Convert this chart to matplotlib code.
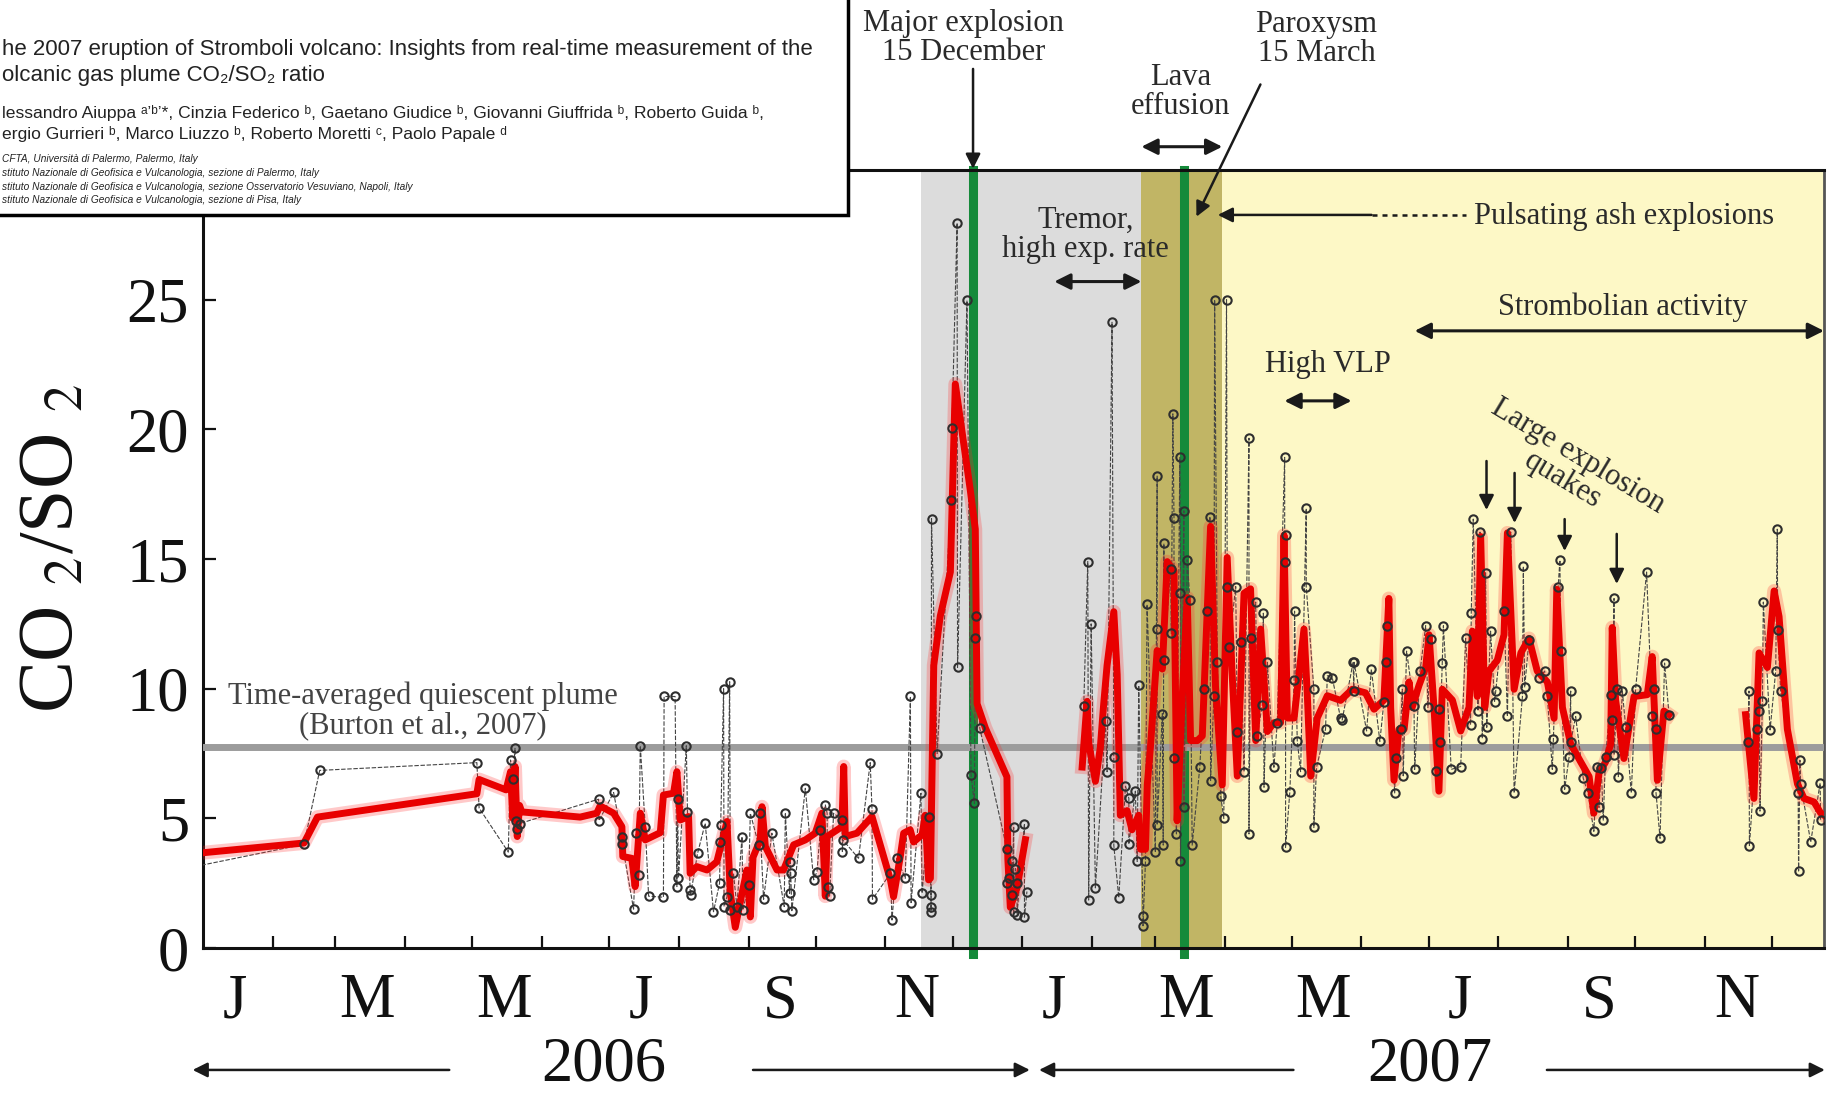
## CO2/SO2 ratio of the Stromboli plume, 2006-2007
import numpy as np
import pandas as pd
import matplotlib
matplotlib.use('Agg')
import matplotlib.pyplot as plt
from matplotlib.patches import Rectangle
from matplotlib.ticker import NullFormatter

plt.rcParams['font.family'] = ['Liberation Serif', 'DejaVu Serif']
plt.rcParams['mathtext.fontset'] = 'stix'

START = pd.Timestamp('2006-01-01')

## Single measurements (days after 1 Jan 2006); nan breaks the line
obs_day = [
    -6, 45, 52, 122, 123, 136, 137, 138, 139, 139.5, 140, 141,
    176.2, 176.4, 182.9, 186.6, 186.8, 191.8, 193, 194, 194.8, 197, 198.5,
    205.1, 205.4, 210.3, 211.1, 211.4, 211.8, 215.3, 215.8, 217, 217.2,
    220.3, 223.7, 227.4, 230.1, 230.4, 230.6, 231.9, 232.1, 233.4, 234.6,
    234.9, 236.3, 237.8, 240.1, 240.5, 243, 243.8, 247.5, 247.9, 249.7,
    253.4, 258.9, 259.4, 261.3, 261.6, 261.8, 262.3, 268.3, 272, 273.5,
    275, 277.2, 278, 278.2, 279.1, 280.9, 284.6, 284.8, 285, 292, 297.2,
    298, 298.2, 306.2, 306.9, 309.1, 312.8, 315.1, 315.4, 319.8, 320.3,
    323.2, 324.3, 324.3, 324.3, 324.5, 327, 333.2, 333.6, 335.9, 336.1,
    340.3, 342.1, 343.6, 344, 344.5, 346, 358.1, 358.1, 358.9, 360.4,
    360.4, 361.1, 361.1, 361.9, 362.6, 362.6, 365.9, 365.9, 367,
    380,
    392.3, 394.1, 394.5, 395.6, 397.5, 402, 402.7, 404.9, 405.7, 405.7,
    407.9, 410.9, 412.4, 412.4, 415.3, 416.1, 416.8, 418.7, 418.7, 419.8,
    420.5, 424.2, 425, 425, 425, 427.3, 427.7, 428, 428, 431, 431.3, 432,
    432.5, 432.5, 433.6, 435.1, 435.4, 435.4, 436.9, 436.9, 438.4, 439.6,
    440.6, 444, 445.8, 447.3, 448.5, 448.8, 450.3, 450.6, 451.8, 453.3,
    454.7, 455.9, 456.2, 457, 460, 460.7, 462.2, 463.7, 465.9, 465.9,
    466.6, 468.9, 469.6, 471.8, 472.3, 472.6, 474.1, 477, 478.5, 481.8,
    481.8, 482.2, 482.2, 484.1, 486, 486.2, 487.4, 488.9, 491.4, 491.4,
    494.8, 494.8, 496, 500, 500.8, 503, 506.7, 507.4, 512.3, 512.6, 512.7,
    518.3, 520.4, 524.2, 526, 526.8, 527.2, 530.8, 531.2, 533.4, 534.2,
    534.6, 536.1, 539.4, 539.7, 542.1, 544.6, 545.6, 547.1, 549, 550.5,
    550.9, 552, 552.5, 556, 560.2, 562.4, 564.6, 564.9, 565.8, 567.9,
    568.8, 569.8, 571.3, 571.8, 573.5, 575.3, 575.8, 579.5, 581, 582.5,
    584, 587.7, 588.1, 588.7, 590.6, 595.1, 597.6, 598.8, 601, 601.5,
    603.6, 604.4, 604.7, 606.5, 608.5, 609.2, 609.2, 611.4, 614.8, 616.9,
    619.5, 621, 621.8, 622.8, 623.7, 624.7, 627.3, 627.7, 628.5, 628.5,
    630, 630.4, 632.2, 633.7, 636.2, 638.1, 643, 645.5, 646.3, 647, 647.2,
    649, 651, 653,
    670,
    688.2, 688.6, 688.8, 692.3, 693.1, 693.5, 694.6, 695, 698, 700.5,
    701.2, 701.4, 702.7, 710.5, 710.7, 711.3, 711.6, 716.1, 720.3, 720.5,
]
obs_ratio = [
    3.1, 4.0, 6.85, 7.15, 5.4, 3.7, 7.25, 6.5, 7.7, 4.9, 4.6, 4.8,
    5.74, 4.91, 6.0, 4.3, 4.0, 1.5, 4.43, 2.82, 7.8, 4.68, 2.0,
    1.96, 9.7, 9.7, 2.37, 5.74, 2.7, 7.8, 5.26, 2.24, 2.05,
    3.65, 4.81, 1.4, 2.5, 4.1, 4.75, 10.0, 1.6, 1.98, 10.27,
    1.47, 2.88, 1.6, 4.3, 1.47, 2.43, 5.2, 3.98, 5.2, 1.88,
    4.43, 1.6, 5.22, 2.11, 3.33, 2.88, 1.44, 6.16, 2.63, 2.95,
    4.55, 5.52, 5.2, 2.37, 2.0, 5.2, 4.94, 3.72, 4.17, 3.46, 7.15,
    5.35, 1.88, 2.88, 1.08, 3.46, 2.69, 9.7, 1.75, 5.97, 2.11,
    5.07, 2.03, 1.57, 1.38, 16.56, 7.5, 17.27, 20.07, 27.96, 10.82,
    24.97, 6.67, 5.58, 11.94, 12.82, 8.48, 3.81, 2.5, 2.69, 3.34,
    2.03, 4.65, 1.38, 3.06, 2.5, 1.29, 4.8, 1.19, 2.18,
    np.nan,
    9.32, 14.9, 1.85, 12.5, 2.32, 8.76, 6.8, 24.13, 7.36, 3.96,
    1.94, 6.24, 5.77, 4.0, 6.05, 3.34, 10.13, 1.25, 0.86, 3.34,
    13.25, 3.72, 18.2, 12.32, 4.74, 9.04, 3.97, 15.6, 11.1, 14.63, 12.13, 20.6,
    16.6, 7.32, 4.4, 18.92, 13.68, 3.36, 16.86, 5.43, 14.97, 13.42,
    3.97, 6.97, 9.98, 12.99, 16.64, 6.46, 9.73, 25.0, 11.02, 5.86,
    5.0, 25.0, 13.94, 11.62, 13.94, 8.35, 11.79, 6.8, 19.66, 4.4,
    11.96, 13.34, 8.18, 9.38, 12.91, 6.2, 11.02, 6.97, 8.69, 18.92,
    14.88, 15.92, 3.88, 6.03, 10.33, 12.99, 8.0, 6.8, 16.95, 13.94,
    9.98, 4.65, 6.97, 8.44, 10.5, 10.42, 8.87, 8.79, 11.03, 9.91, 11.02,
    8.37, 10.75, 7.97, 9.49, 11.03, 12.43, 5.98, 7.31, 8.44, 9.98,
    6.64, 11.45, 9.35, 6.89, 10.68, 12.43, 9.28, 11.91, 6.82, 9.21,
    7.94, 10.99, 12.43, 6.89, 7.0, 11.94, 8.6, 12.92, 16.54, 9.14,
    16.04, 8.08, 14.47, 8.51, 12.22, 9.49, 9.91, 12.99, 8.93, 16.04,
    5.98, 9.7, 14.72, 10.05, 11.87, 10.4, 10.68, 9.7, 6.89, 8.08,
    13.93, 14.96, 11.45, 6.12, 7.38, 9.91, 7.94, 8.93, 6.54, 5.98,
    4.5, 7.0, 5.42, 6.96, 4.93, 7.38, 9.77, 8.79, 13.48, 7.45,
    9.98, 6.61, 9.91, 8.51, 5.98, 9.98, 14.5, 8.93, 9.98, 8.44, 5.98,
    4.23, 10.99, 9.0,
    np.nan,
    7.94, 9.91, 3.95, 8.44, 9.14, 5.28, 9.53, 13.34, 8.41, 10.68,
    16.15, 12.25, 9.91, 5.98, 2.97, 7.24, 6.33, 4.09, 6.36, 4.93,
]

## Running mean (red curve)
avg_day = [
    -3, 45, 51, 122, 123, 135, 137, 138, 139, 140, 141, 142, 168,
    175.4, 176.9, 182.9, 186.6, 187, 191, 192.5, 194.8, 197, 203.7, 205.1,
    209.6, 211.1, 212.6, 216.3, 217, 220, 224.5, 228.9, 233.4, 234.9, 237.1,
    240.1, 242.3, 243.8, 245, 248.2, 249, 250.5, 255.7, 258.6, 261.6, 263.1,
    268.3, 272.7, 275.7, 277.2, 278, 284.6, 285.4, 286.1, 291.3, 298, 306.2,
    307.6, 310.6, 312.1, 315, 316.5, 320.3, 321.7, 323.2, 324, 325.5, 328.4,
    332.9, 335.1, 341.8, 344, 344.8, 348.5, 358.1, 358.5, 359.6, 362.6, 366.3,
    380,
    391.6, 393.8, 394.5, 397.5, 399.7, 401.2, 402.7, 405.7, 407.2, 408.6,
    411.6, 413.8, 416.8, 417.6, 419.8, 420.6, 422, 424.3, 425, 427.3, 429.5,
    432.5, 433.9, 436.2, 438.4, 439.9, 442.9, 445.1, 448.8, 451, 454, 456.2,
    458.4, 460.7, 463.7, 466.6, 468.9, 471.1, 474.1, 477, 480, 481.5, 483,
    486, 490.4, 491.9, 493.4, 496.3, 500.8, 506.7, 511.9, 517.8, 521.6, 526,
    528.2, 529, 530.5, 532.7, 535, 537.2, 538.6, 541.6, 544.6, 546.1, 548.3,
    550.5, 552, 556.5, 560.2, 563.9, 565.4, 567.6, 569.1, 570.9, 572.8,
    576.5, 579.5, 581, 584, 587, 590.6, 594.3, 598.8, 601.8, 603, 605.5,
    609.2, 613.7, 617.4, 619.5, 621.8, 624.7, 627, 627.7, 629.2, 632.9,
    637.4, 643.3, 645.5, 647.8, 650.7, 653,
    670,
    687.1, 690.8, 693.1, 696.8, 699.8, 702, 705.7, 710.2, 713.1, 717.6,
    720.5, 722.8,
]
avg_ratio = [
    3.65, 4.05, 5.05, 5.95, 6.5, 6.1, 6.8, 5.0, 7.0, 4.3, 5.5, 5.25, 5.05,
    5.2, 5.48, 5.2, 4.68, 3.53, 3.46, 2.37, 5.2, 4.17, 4.45, 5.9,
    5.97, 6.8, 4.94, 5.07, 2.88, 3.14, 3.01, 3.33, 4.88, 2.11, 0.8,
    2.11, 3.01, 1.2, 3.5, 4.17, 5.45, 3.91, 3.01, 3.01, 3.65, 3.98,
    4.17, 4.43, 5.2, 2.0, 4.3, 4.68, 7.0, 4.3, 4.43, 5.07, 2.63,
    1.98, 3.53, 4.43, 4.56, 4.09, 4.37, 5.12, 2.63, 2.69, 10.9, 12.8,
    14.5, 21.75, 17.64, 16.15, 9.42, 8.48, 6.6, 3.44, 1.57, 2.32, 4.18,
    np.nan,
    6.98, 9.51, 7.92, 6.43, 7.74, 9.42, 10.9, 12.97, 10.54, 5.12,
    5.3, 4.56, 5.12, 3.81, 3.81, 6.29, 7.74, 10.59, 11.47, 10.76, 14.9,
    14.54, 4.91, 9.73, 13.51, 8.0, 8.0, 8.18, 16.26, 10.07, 6.29, 15.06,
    10.59, 6.63, 13.68, 13.85, 8.0, 12.3, 8.35, 8.69, 8.69, 15.92, 8.87,
    8.87, 12.3, 9.73, 6.63, 8.87, 9.73, 9.55, 9.98, 9.84, 9.21, 9.56,
    13.48, 9.28, 6.47, 8.44, 8.44, 10.26, 9.28, 10.12, 10.82, 12.08, 9.28,
    6.05, 9.98, 9.56, 8.37, 9.28, 12.22, 9.7, 15.87, 9.28, 10.68,
    11.1, 12.08, 16.01, 9.98, 11.38, 11.94, 10.68, 10.26, 8.86, 13.83, 9.28,
    7.87, 7.17, 6.61, 5.2, 6.75, 7.17, 7.87, 12.36, 9.56, 7.31,
    9.7, 9.77, 11.24, 6.47, 9.14, 9.0,
    np.nan,
    9.0, 5.77, 11.38, 10.82, 13.77, 12.78, 8.44, 6.33, 5.77, 5.63,
    5.21, 5.07,
]

quiescent_ratio = 7.75      # Burton et al., 2007
tremor_start = '2006-11-17'
major_explosion = '2006-12-10'
effusion_start = '2007-02-23'
paroxysm = '2007-03-14'
effusion_end = '2007-03-31'
axis_end = '2007-12-24'

month_letters = ['J', 'M', 'M', 'J', 'S', 'N'] * 2
y_ticks = [0, 5, 10, 15, 20, 25]


def d(day):
    return START + pd.to_timedelta(day, unit='D')


obs_x = d(np.array(obs_day))
avg_x = d(np.array(avg_day))

fig = plt.figure(figsize=(18.3, 10.95), dpi=100)
ax = fig.add_axes([0.1109, 0.1342, 0.8858, 0.7105])

# activity phases
ax.axvspan(pd.Timestamp(tremor_start), pd.Timestamp(effusion_start), color='#dcdcdc', lw=0, zorder=0)
ax.axvspan(pd.Timestamp(effusion_start), pd.Timestamp(effusion_end), color='#c1b565', lw=0, zorder=0)
ax.axvspan(pd.Timestamp(effusion_end), pd.Timestamp(axis_end), color='#fdf8c6', lw=0, zorder=0)

for ev in [major_explosion, paroxysm]:
    ax.axvline(pd.Timestamp(ev), ymin=-0.008, ymax=1, color='#158a3a', lw=6.5,
               clip_on=False, zorder=2)

ax.axhline(quiescent_ratio, color='#9c9c9c', lw=5, zorder=3)

ax.plot(obs_x, obs_ratio, color='#444444', lw=0.8, ls=(0, (4, 1.5)), zorder=4)
ax.plot(avg_x, avg_ratio, color='#ff2a2a', lw=10, alpha=0.25, zorder=5)
ax.plot(avg_x, avg_ratio, color='#e80000', lw=5, zorder=5)
ax.plot(obs_x, obs_ratio, ls='none', marker='o', mfc='none', mec='#2e2e2e',
        ms=6, mew=1.5, zorder=6)

ax.set_xlim(START, pd.Timestamp(axis_end))
ax.set_ylim(0, 30)

ax.set_yticks(y_ticks)
ax.set_xticks(pd.date_range('2006-02-01', '2007-12-01', freq='MS'))
ax.xaxis.set_major_formatter(NullFormatter())
ax.set_xticks(pd.date_range('2006-01-01', periods=12, freq='2MS') + pd.Timedelta(days=14), minor=True)
ax.set_xticklabels(month_letters, minor=True)
ax.tick_params(axis='both', which='major', direction='in', length=9, width=1.6,
               labelsize=45, colors='#111111')
ax.tick_params(axis='y', pad=10)
ax.tick_params(axis='x', which='minor', length=0, labelsize=45, pad=18, colors='#111111')

for s in ['left', 'bottom', 'top']:
    ax.spines[s].set_linewidth(2.2)
    ax.spines[s].set_color('#111111')
ax.spines['right'].set_linewidth(2)
ax.spines['right'].set_color('#555555')

ax.set_ylabel(r'CO $_2$/SO $_2$', fontsize=56, color='#111111', va='center')
ax.yaxis.set_label_coords(-0.092, 0.514)

txt = dict(ha='center', va='center', fontsize=22, color='#2a2a2a', linespacing=1.0, clip_on=False)
arrow = dict(arrowstyle='-|>', lw=1.8, color='#1a1a1a', mutation_scale=22, shrinkA=0, shrinkB=0)
both = dict(arrowstyle='<|-|>', lw=2.2, color='#1a1a1a', mutation_scale=24, shrinkA=0, shrinkB=0)

ax.text(d(98), 9.15, 'Time-averaged quiescent plume\n(Burton et al., 2007)',
        **{**txt, 'color': '#444444'})

ax.text(d(338.7), 35.1, 'Major explosion\n15 December', **txt)
ax.annotate('', xy=(pd.Timestamp(major_explosion), 30.05), xytext=(pd.Timestamp(major_explosion), 33.9),
            arrowprops=arrow, annotation_clip=False)

ax.text(d(435.5), 33.0, 'Lava\neffusion', **txt)
ax.annotate('', xy=(pd.Timestamp(effusion_end), 30.9), xytext=(pd.Timestamp(effusion_start), 30.9),
            arrowprops=both, annotation_clip=False)

ax.text(d(496), 35.05, 'Paroxysm\n15 March', **txt)
ax.annotate('', xy=(d(442.5), 28.2), xytext=(d(471), 33.3), arrowprops=arrow, annotation_clip=False)

ax.text(d(393), 27.5, 'Tremor,\nhigh exp. rate', **txt)
ax.annotate('', xy=(d(379.2), 25.7), xytext=(pd.Timestamp(effusion_start), 25.7), arrowprops=both)

ax.text(d(566), 28.2, 'Pulsating ash explosions', ha='left', va='center', fontsize=22, color='#2a2a2a')
ax.annotate('', xy=(d(452), 28.27), xytext=(d(520.5), 28.27), arrowprops=arrow)
ax.plot([d(520.5), d(562.4)], [28.27, 28.27], color='#1a1a1a', lw=1.8, ls=(0, (2, 2)))

ax.text(d(632.4), 24.7, 'Strombolian activity', **txt)
ax.annotate('', xy=(pd.Timestamp(axis_end), 23.8), xytext=(d(539.7), 23.8), arrowprops=both,
            annotation_clip=False)

ax.text(d(500.9), 22.5, 'High VLP', **txt)
ax.annotate('', xy=(d(511.6), 21.1), xytext=(d(481.7), 21.1), arrowprops=both)

ax.text(d(609), 18.5, 'Large explosion\nquakes', rotation=-31, rotation_mode='anchor', **txt)
for day, y0, y1 in [(571.7, 18.78, 16.89), (584.2, 18.32, 16.39), (606.5, 16.54, 15.31), (629.7, 15.97, 14.04)]:
    ax.annotate('', xy=(d(day), y1), xytext=(d(day), y0), arrowprops=arrow)

# year arrows under the axis
ax.text(d(178.3), -5.1, '2006', ha='center', va='baseline', fontsize=45, color='#111111', clip_on=False)
ax.text(d(546.6), -5.1, '2007', ha='center', va='baseline', fontsize=45, color='#111111', clip_on=False)
for x0, x1 in [(109.7, -4.6), (245, 368.3), (485.7, 372.4), (598.6, 722.4)]:
    ax.annotate('', xy=(d(x1), -4.7), xytext=(d(x0), -4.7), arrowprops=arrow, annotation_clip=False)

## Paper header pasted in the corner
fig.add_artist(Rectangle((-0.01, 0.8037), 0.4734, 0.21, transform=fig.transFigure,
                         fc='white', ec='black', lw=2.5, zorder=10))
sans = ['Liberation Sans Narrow', 'Liberation Sans', 'DejaVu Sans']
head = [
    (0.955, 'he 2007 eruption of Stromboli volcano: Insights from real-time measurement of the', 16, 'normal'),
    (0.9315, 'olcanic gas plume CO\u2082/SO\u2082 ratio', 16, 'normal'),
    (0.8968, 'lessandro Aiuppa \u1d43\u02bc\u1d47\u02bc*, Cinzia Federico \u1d47, Gaetano Giudice \u1d47, '
             'Giovanni Giuffrida \u1d47, Roberto Guida \u1d47,', 12.6, 'normal'),
    (0.8776, 'ergio Gurrieri \u1d47, Marco Liuzzo \u1d47, Roberto Moretti \u1d9c, Paolo Papale \u1d48', 12.6, 'normal'),
    (0.8548, 'CFTA, Universit\u00e0 di Palermo, Palermo, Italy', 7.3, 'italic'),
    (0.8420, 'stituto Nazionale di Geofisica e Vulcanologia, sezione di Palermo, Italy', 7.3, 'italic'),
    (0.8292, 'stituto Nazionale di Geofisica e Vulcanologia, sezione Osservatorio Vesuviano, Napoli, Italy', 7.3, 'italic'),
    (0.8174, 'stituto Nazionale di Geofisica e Vulcanologia, sezione di Pisa, Italy', 7.3, 'italic'),
]
for y, s, size, style in head:
    fig.text(0.001, y, s, ha='left', va='center', fontsize=size, style=style,
             family=sans, color='#222222', zorder=11)

fig.savefig('out.png', dpi=100)
